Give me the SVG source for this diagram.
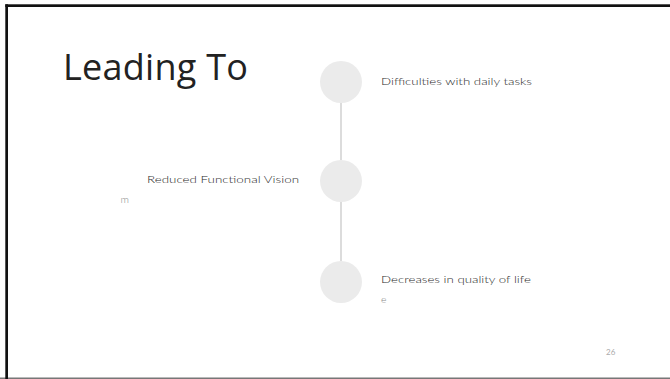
<svg xmlns="http://www.w3.org/2000/svg" width="670" height="379" viewBox="0 0 670 379">
<style>
.node circle{fill:#ebebeb}
.lbl{font-family:Lato,"Liberation Sans",sans-serif;font-size:10.5px;font-weight:300;fill:#2a2a2a}
.faint{font-family:Lato,"Liberation Sans",sans-serif;font-size:10.5px;font-weight:300;fill:#888}
.conn line{stroke:#d0d0d0;stroke-width:1.5}
</style>
<rect width="670" height="379" fill="#ffffff"/>
<rect x="0" y="377.5" width="670" height="1.5" fill="#777"/>
<rect x="5.3" y="4.3" width="2.7" height="375" fill="#111"/>
<rect x="5.3" y="4.3" width="665" height="2.7" fill="#111"/>
<text x="63" y="80" font-family="'Open Sans','Noto Sans',sans-serif" font-size="36" fill="#222" textLength="185" lengthAdjust="spacing">Leading To</text>
<g id="connectors" class="conn">
<line x1="341" y1="103" x2="341" y2="160"/>
<line x1="341" y1="202" x2="341" y2="261"/>
</g>
<g id="node1" class="node">
<circle cx="341" cy="82" r="21"/>
<text class="lbl" x="381" y="85" textLength="151" lengthAdjust="spacingAndGlyphs">Difficulties with daily tasks</text>
</g>
<g id="node2" class="node">
<circle cx="341" cy="181" r="21"/>
<text class="lbl" x="147" y="183" textLength="152" lengthAdjust="spacingAndGlyphs">Reduced Functional Vision</text>
<text class="faint" x="120.5" y="203">m</text>
</g>
<g id="node3" class="node">
<circle cx="341" cy="282" r="21"/>
<text class="lbl" x="381" y="283" textLength="150" lengthAdjust="spacingAndGlyphs">Decreases in quality of life</text>
<text class="faint" x="381" y="303">e</text>
</g>
<text x="606" y="355" font-family="Lato,'Liberation Sans',sans-serif" font-size="8" fill="#aaa">26</text>
</svg>
